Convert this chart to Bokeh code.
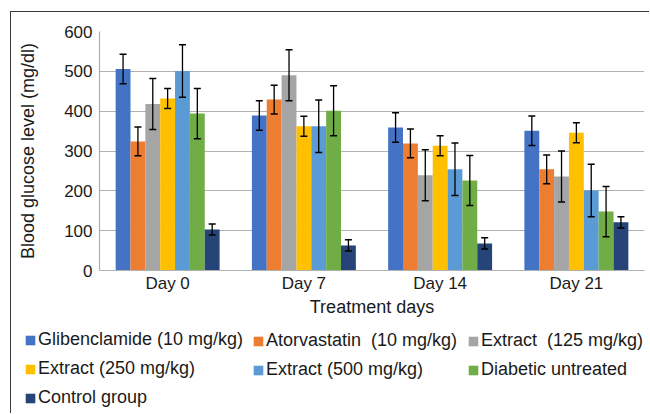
from bokeh.plotting import figure
from bokeh.models import (ColumnDataSource, FactorRange, Whisker, TeeHead, Legend,
                          LegendItem, FixedTicker)
from bokeh.transform import dodge
from bokeh.embed import file_html
from bokeh.resources import INLINE

days = ["Day 0", "Day 7", "Day 14", "Day 21"]
series_names = ["Glibenclamide (10 mg/kg)", "Atorvastatin  (10 mg/kg)", "Extract  (125 mg/kg)",
                "Extract (250 mg/kg)", "Extract (500 mg/kg)", "Diabetic untreated", "Control group"]
glib = [506, 389, 359, 351]
glib_err = [37, 37, 37, 37]
ator = [324, 429, 319, 254]
ator_err = [36, 36, 36, 36]
ext125 = [418, 490, 239, 236]
ext125_err = [64, 64, 64, 64]
ext250 = [432, 362, 313, 346]
ext250_err = [25, 25, 25, 25]
ext500 = [501, 362, 254, 201]
ext500_err = [66, 66, 66, 66]
diab = [394, 401, 226, 148]
diab_err = [63, 63, 63, 63]
control = [103, 63, 68, 121]
control_err = [14, 14, 14, 14]
y_ticks = [0, 100, 200, 300, 400, 500, 600]

values = [glib, ator, ext125, ext250, ext500, diab, control]
errors = [glib_err, ator_err, ext125_err, ext250_err, ext500_err, diab_err, control_err]
colors = ["#4472C4", "#ED7D31", "#A5A5A5", "#FFC000", "#5B9BD5", "#70AD47", "#264478"]

FONT = "Liberation Sans"
TXT = "#1a1a1a"
BORDER = "1px solid #3a3a3a"

p = figure(x_range=FactorRange(*days), y_range=(0, 600), width=639, height=310,
           output_backend="svg", toolbar_location=None,
           min_border_left=88, min_border_top=19, min_border_right=6, min_border_bottom=52)
p.styles = {"margin-left": "10px", "margin-top": "11px",
            "border-top": BORDER, "border-left": BORDER}
p.outline_line_color = None

bw = 0.109
for i, (vals, errs, col) in enumerate(zip(values, errors, colors)):
    src = ColumnDataSource(dict(day=days, top=vals,
                                upper=[v + e for v, e in zip(vals, errs)],
                                lower=[v - e for v, e in zip(vals, errs)]))
    off = (i - 3) * bw
    p.vbar(x=dodge("day", off, range=p.x_range), top="top", width=bw, source=src,
           fill_color=col, line_color=None)
    w = Whisker(base=dodge("day", off, range=p.x_range), upper="upper", lower="lower",
                source=src, line_color="black", line_width=1.3, level="overlay",
                upper_head=TeeHead(size=7, line_color="black", line_width=1.5),
                lower_head=TeeHead(size=7, line_color="black", line_width=1.5))
    p.add_layout(w)

p.yaxis.ticker = FixedTicker(ticks=y_ticks)
p.ygrid.grid_line_color = "#b0b0b0"
p.ygrid.grid_line_width = 1.2
p.xgrid.grid_line_color = None
for ax in (p.xaxis, p.yaxis):
    ax.major_tick_line_color = None
    ax.minor_tick_line_color = None
    ax.major_tick_out = 0
    ax.major_tick_in = 0
    ax.minor_tick_out = 0
    ax.axis_line_color = "#b0b0b0"
    ax.axis_line_width = 1.2
    ax.major_label_text_font = FONT
    ax.major_label_text_font_size = "17px"
    ax.major_label_text_color = TXT
    ax.axis_label_text_font = FONT
    ax.axis_label_text_font_size = "18px"
    ax.axis_label_text_font_style = "normal"
    ax.axis_label_text_color = TXT
p.yaxis.axis_label = "Blood glucose level (mg/dl)"
p.xaxis.axis_label = "Treatment days"
p.yaxis.major_label_standoff = 7
p.xaxis.major_label_standoff = 3
p.yaxis.axis_label_standoff = 23
p.xaxis.axis_label_standoff = 1

# legend panel below the chart (separate root so its frame is not aligned to the chart)
pl = figure(width=639, height=92, x_range=(0, 1), y_range=(0, 1), output_backend="svg",
            toolbar_location=None, min_border=0, x_axis_location=None, y_axis_location=None)
pl.styles = {"margin-left": "10px", "border-left": BORDER}
pl.grid.visible = False
pl.outline_line_color = None
leg_renderers = [pl.vbar(x=[0.5], top=[0], bottom=[0], width=0.01, fill_color=c, line_color=None)
                 for c in colors]

cols = [([0, 3, 6], 13, 5), ([1, 4], 241, 33), ([2, 5], 456, 33)]
for idxs, lx, ly in cols:
    leg = Legend(items=[LegendItem(label=series_names[k], renderers=[leg_renderers[k]]) for k in idxs],
                 location=(lx, ly), orientation="vertical",
                 glyph_width=12, glyph_height=12, label_standoff=2, spacing=8,
                 padding=0, margin=0, border_line_color=None, background_fill_alpha=0,
                 label_text_font=FONT, label_text_font_size="18px", label_text_color=TXT,
                 label_height=20)
    pl.add_layout(leg, "center")

open("out.html", "w").write(file_html([p, pl], INLINE))
